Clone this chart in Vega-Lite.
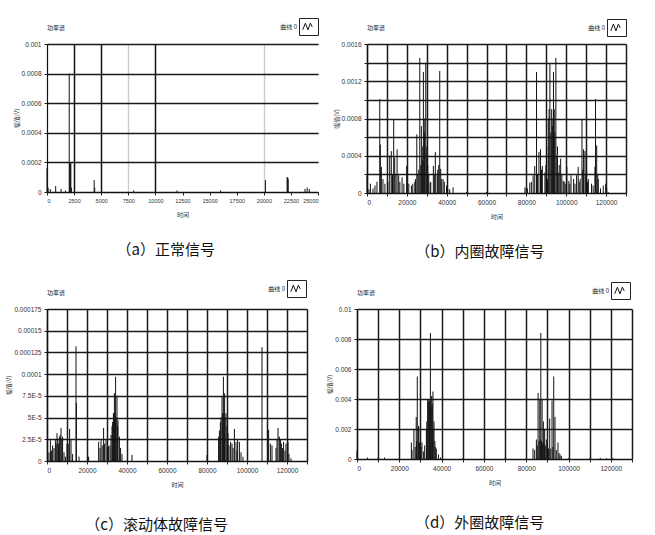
{
  "$schema": "https://vega.github.io/schema/vega-lite/v6.json",
  "background": "white",
  "padding": {"left": 5, "top": 17, "right": 5, "bottom": 5},
  "datasets": {
    "a": [
      {"x": 0, "y": 0.00016}, {"x": 100, "y": 0.00003}, {"x": 300, "y": 0.00002}, {"x": 800, "y": 0.00004},
      {"x": 1300, "y": 0.00002}, {"x": 1700, "y": 0.00001}, {"x": 2050, "y": 0.0008}, {"x": 2100, "y": 0.0002},
      {"x": 2150, "y": 0.00019}, {"x": 2200, "y": 0.0002}, {"x": 2250, "y": 0.00003}, {"x": 4350, "y": 0.00008},
      {"x": 4400, "y": 0.00003}, {"x": 8000, "y": 0.00001}, {"x": 12000, "y": 0.00001}, {"x": 16000, "y": 0.00001},
      {"x": 20150, "y": 0.00008}, {"x": 22150, "y": 0.0001}, {"x": 22200, "y": 0.0001}, {"x": 22250, "y": 0.00009},
      {"x": 23800, "y": 0.00002}, {"x": 24000, "y": 0.00003}, {"x": 24200, "y": 0.00002}
    ],
    "b": [
      {"x": 0, "y": 0.00019}, {"x": 1000, "y": 0.00004}, {"x": 1700, "y": 0.0001}, {"x": 3000, "y": 0.00005},
      {"x": 4000, "y": 0.00008}, {"x": 5000, "y": 0.00012}, {"x": 6400, "y": 0.00101}, {"x": 6700, "y": 0.00052},
      {"x": 7200, "y": 0.00028}, {"x": 8000, "y": 0.00015}, {"x": 9000, "y": 0.0001}, {"x": 10500, "y": 0.00012},
      {"x": 11400, "y": 0.0004}, {"x": 12200, "y": 0.00045}, {"x": 12800, "y": 0.0002}, {"x": 13400, "y": 0.00079},
      {"x": 13900, "y": 0.00038}, {"x": 14500, "y": 0.0002}, {"x": 15100, "y": 0.00047}, {"x": 15900, "y": 0.00019},
      {"x": 16500, "y": 0.00012}, {"x": 17600, "y": 0.00017}, {"x": 18500, "y": 0.0001}, {"x": 19900, "y": 0.00029},
      {"x": 21000, "y": 0.0001}, {"x": 22300, "y": 0.00008}, {"x": 23000, "y": 0.0001}, {"x": 24000, "y": 0.00012},
      {"x": 24300, "y": 0.00015}, {"x": 25000, "y": 0.00063}, {"x": 25500, "y": 0.0002}, {"x": 26000, "y": 0.00025},
      {"x": 26500, "y": 0.00145}, {"x": 27000, "y": 0.0003}, {"x": 27300, "y": 0.00072}, {"x": 27800, "y": 0.00035},
      {"x": 28000, "y": 0.0005}, {"x": 28300, "y": 0.0013}, {"x": 28800, "y": 0.00065}, {"x": 29000, "y": 0.0008},
      {"x": 29500, "y": 0.0014}, {"x": 30000, "y": 0.0005}, {"x": 30200, "y": 0.00037}, {"x": 30500, "y": 0.0003},
      {"x": 31000, "y": 0.0002}, {"x": 31700, "y": 0.00011}, {"x": 32000, "y": 0.00012}, {"x": 33300, "y": 0.00029},
      {"x": 33800, "y": 0.0002}, {"x": 34300, "y": 0.00044}, {"x": 35200, "y": 0.00019}, {"x": 35500, "y": 0.00025},
      {"x": 36000, "y": 0.0003}, {"x": 36500, "y": 0.00131}, {"x": 37000, "y": 0.00026}, {"x": 37500, "y": 0.00015},
      {"x": 38200, "y": 0.00015}, {"x": 38800, "y": 0.00012}, {"x": 39900, "y": 0.00008}, {"x": 40500, "y": 0.00005},
      {"x": 41500, "y": 0.00004}, {"x": 43200, "y": 0.00006}, {"x": 50000, "y": 0.00001}, {"x": 60000, "y": 0.00001},
      {"x": 70000, "y": 0.00001}, {"x": 79300, "y": 0.00006}, {"x": 80500, "y": 0.00005}, {"x": 81700, "y": 0.00011},
      {"x": 82500, "y": 0.00012}, {"x": 83400, "y": 0.00019}, {"x": 84200, "y": 0.00029}, {"x": 85100, "y": 0.0013},
      {"x": 85600, "y": 0.0002}, {"x": 86300, "y": 0.00044}, {"x": 87100, "y": 0.00047}, {"x": 87600, "y": 0.00025},
      {"x": 88000, "y": 0.00029}, {"x": 89300, "y": 0.00022}, {"x": 89800, "y": 0.0003}, {"x": 90200, "y": 0.0005},
      {"x": 90600, "y": 0.00015}, {"x": 91000, "y": 0.0008}, {"x": 91400, "y": 0.0009}, {"x": 91800, "y": 0.00139},
      {"x": 92300, "y": 0.00065}, {"x": 92700, "y": 0.0009}, {"x": 93000, "y": 0.00072}, {"x": 93300, "y": 0.0008},
      {"x": 93600, "y": 0.0013}, {"x": 94000, "y": 0.0009}, {"x": 94300, "y": 0.00065}, {"x": 94800, "y": 0.00145},
      {"x": 95300, "y": 0.0004}, {"x": 95600, "y": 0.0005}, {"x": 96000, "y": 0.00022}, {"x": 96500, "y": 0.0003},
      {"x": 97200, "y": 0.00037}, {"x": 97800, "y": 0.0002}, {"x": 98500, "y": 0.00013}, {"x": 99000, "y": 0.00012},
      {"x": 99800, "y": 0.0001}, {"x": 100300, "y": 0.00028}, {"x": 101300, "y": 0.00013}, {"x": 101800, "y": 0.0001},
      {"x": 102400, "y": 0.00019}, {"x": 103700, "y": 0.00015}, {"x": 104400, "y": 0.0001}, {"x": 105200, "y": 0.00019},
      {"x": 106000, "y": 0.00028}, {"x": 106500, "y": 0.00012}, {"x": 107000, "y": 0.00015}, {"x": 107900, "y": 0.00079},
      {"x": 108300, "y": 0.00025}, {"x": 108700, "y": 0.00047}, {"x": 109400, "y": 0.00045}, {"x": 109800, "y": 0.0002},
      {"x": 110200, "y": 0.0004}, {"x": 110700, "y": 0.00012}, {"x": 111100, "y": 0.00015}, {"x": 112700, "y": 0.0001},
      {"x": 113500, "y": 0.00008}, {"x": 114400, "y": 0.00028}, {"x": 114700, "y": 0.00101}, {"x": 115300, "y": 0.00051},
      {"x": 115800, "y": 0.0002}, {"x": 116100, "y": 0.00015}, {"x": 117200, "y": 0.00005}, {"x": 118600, "y": 0.00008},
      {"x": 119800, "y": 0.0001}, {"x": 120300, "y": 0.00005}, {"x": 121100, "y": 0.00001}
    ],
    "c": [
      {"x": 200, "y": 0.00016}, {"x": 1000, "y": 0.00001}, {"x": 1700, "y": 0.000024}, {"x": 2200, "y": 0.000012},
      {"x": 2800, "y": 0.000018}, {"x": 3500, "y": 0.000015}, {"x": 4200, "y": 0.000024}, {"x": 4600, "y": 0.00002},
      {"x": 5000, "y": 0.000032}, {"x": 5400, "y": 0.000025}, {"x": 5800, "y": 0.00002}, {"x": 6200, "y": 0.000028},
      {"x": 6600, "y": 0.00003}, {"x": 7000, "y": 0.000038}, {"x": 7400, "y": 0.000025}, {"x": 7800, "y": 0.000028},
      {"x": 8500, "y": 0.00001}, {"x": 9200, "y": 0.000005}, {"x": 10000, "y": 0.00002}, {"x": 10600, "y": 0.00002},
      {"x": 11300, "y": 0.000037}, {"x": 12000, "y": 0.000024}, {"x": 12800, "y": 0.000008}, {"x": 14500, "y": 0.000132},
      {"x": 14700, "y": 0.000067}, {"x": 16000, "y": 0.000005}, {"x": 20800, "y": 0.000005}, {"x": 25800, "y": 0.000022},
      {"x": 26500, "y": 0.000015}, {"x": 27000, "y": 0.000024}, {"x": 27600, "y": 0.000018}, {"x": 28300, "y": 0.000038},
      {"x": 28800, "y": 0.00002}, {"x": 29500, "y": 0.000024}, {"x": 30200, "y": 0.000015}, {"x": 30800, "y": 0.000017},
      {"x": 31500, "y": 0.000018}, {"x": 32000, "y": 0.00003}, {"x": 32500, "y": 0.00004}, {"x": 32800, "y": 0.000045},
      {"x": 33200, "y": 0.000055}, {"x": 33500, "y": 0.000055}, {"x": 33700, "y": 0.000078}, {"x": 34000, "y": 0.000055},
      {"x": 34300, "y": 0.000097}, {"x": 34600, "y": 0.00005}, {"x": 35000, "y": 0.000074}, {"x": 35300, "y": 0.00004},
      {"x": 35500, "y": 0.000047}, {"x": 36200, "y": 0.000028}, {"x": 36800, "y": 0.000015}, {"x": 37500, "y": 0.000008},
      {"x": 42500, "y": 0.000007}, {"x": 80000, "y": 0.000007}, {"x": 85800, "y": 0.000028}, {"x": 86200, "y": 0.000035},
      {"x": 86700, "y": 0.000045}, {"x": 87000, "y": 0.00005}, {"x": 87500, "y": 0.000074}, {"x": 87800, "y": 0.000055},
      {"x": 88200, "y": 0.000097}, {"x": 88500, "y": 0.000055}, {"x": 88800, "y": 0.000078}, {"x": 89000, "y": 0.00005},
      {"x": 89500, "y": 0.000055}, {"x": 90000, "y": 0.00004}, {"x": 90500, "y": 0.000032}, {"x": 91000, "y": 0.000018},
      {"x": 91800, "y": 0.000022}, {"x": 92500, "y": 0.00002}, {"x": 93000, "y": 0.000015}, {"x": 93700, "y": 0.000037},
      {"x": 94500, "y": 0.000022}, {"x": 95000, "y": 0.000012}, {"x": 95300, "y": 0.000024}, {"x": 96200, "y": 0.000022},
      {"x": 97000, "y": 0.00001}, {"x": 98000, "y": 0.000005}, {"x": 107500, "y": 0.000131}, {"x": 110800, "y": 0.000036},
      {"x": 111700, "y": 0.00002}, {"x": 112500, "y": 0.000018}, {"x": 114500, "y": 0.000015}, {"x": 115000, "y": 0.000025},
      {"x": 115500, "y": 0.000038}, {"x": 116200, "y": 0.000028}, {"x": 116800, "y": 0.000025}, {"x": 117200, "y": 0.00002},
      {"x": 117800, "y": 0.000015}, {"x": 118300, "y": 0.000022}, {"x": 119000, "y": 0.000012}, {"x": 119500, "y": 0.00002},
      {"x": 120500, "y": 0.000022}, {"x": 121000, "y": 0.000008}, {"x": 122000, "y": 0.000003}
    ],
    "d": [
      {"x": 0, "y": 0.00056}, {"x": 5000, "y": 0.0001}, {"x": 10000, "y": 0.0001}, {"x": 13000, "y": 0.0001},
      {"x": 20000, "y": 0.00005}, {"x": 25700, "y": 0.0011}, {"x": 26000, "y": 0.0006}, {"x": 26900, "y": 0.002},
      {"x": 27500, "y": 0.0008}, {"x": 28000, "y": 0.0028}, {"x": 28200, "y": 0.0012}, {"x": 28500, "y": 0.0055},
      {"x": 29100, "y": 0.0022}, {"x": 29500, "y": 0.0011}, {"x": 29900, "y": 0.002}, {"x": 30300, "y": 0.0008},
      {"x": 30700, "y": 0.0011}, {"x": 31500, "y": 0.0005}, {"x": 32000, "y": 0.0009}, {"x": 32800, "y": 0.002},
      {"x": 33000, "y": 0.0025}, {"x": 33400, "y": 0.004}, {"x": 33700, "y": 0.0038}, {"x": 34000, "y": 0.004},
      {"x": 34300, "y": 0.0039}, {"x": 34700, "y": 0.0084}, {"x": 35000, "y": 0.0035}, {"x": 35300, "y": 0.0042},
      {"x": 35600, "y": 0.0037}, {"x": 35900, "y": 0.0045}, {"x": 36000, "y": 0.002}, {"x": 36400, "y": 0.0025},
      {"x": 36800, "y": 0.0012}, {"x": 37000, "y": 0.0008}, {"x": 37500, "y": 0.0007}, {"x": 38500, "y": 0.0003},
      {"x": 39500, "y": 0.0001}, {"x": 50000, "y": 0.00005}, {"x": 70000, "y": 0.00005}, {"x": 83200, "y": 0.0007},
      {"x": 84000, "y": 0.0006}, {"x": 84800, "y": 0.0013}, {"x": 85200, "y": 0.0009}, {"x": 85600, "y": 0.0044},
      {"x": 86000, "y": 0.0012}, {"x": 86400, "y": 0.004}, {"x": 86600, "y": 0.0013}, {"x": 86900, "y": 0.0084},
      {"x": 87200, "y": 0.0012}, {"x": 87500, "y": 0.004}, {"x": 87800, "y": 0.0011}, {"x": 88100, "y": 0.0025},
      {"x": 88400, "y": 0.001}, {"x": 88700, "y": 0.002}, {"x": 89000, "y": 0.0009}, {"x": 89500, "y": 0.0013},
      {"x": 90000, "y": 0.0008}, {"x": 90500, "y": 0.0007}, {"x": 91100, "y": 0.0027}, {"x": 91600, "y": 0.0007},
      {"x": 92200, "y": 0.0039}, {"x": 92600, "y": 0.0008}, {"x": 93000, "y": 0.0055}, {"x": 93600, "y": 0.0028},
      {"x": 94200, "y": 0.0006}, {"x": 95000, "y": 0.0011}, {"x": 95500, "y": 0.0004}, {"x": 96000, "y": 0.0003},
      {"x": 96600, "y": 0.0002}, {"x": 100000, "y": 0.00005}, {"x": 110000, "y": 0.00005}, {"x": 115000, "y": 0.00008},
      {"x": 118000, "y": 0.00005}, {"x": 121000, "y": 0.00005}
    ]
  },
  "config": {
    "view": {"stroke": null},
    "font": "Liberation Sans",
    "axis": {
      "labelFont": "Liberation Sans", "labelFontSize": 6.5, "labelColor": "#333",
      "titleFont": "Noto Sans CJK SC", "titleFontSize": 6, "titleFontWeight": "normal", "titleColor": "#333",
      "tickSize": 3, "tickColor": "#222", "domainColor": "#111", "domainWidth": 1.2,
      "gridColor": "#1a1a1a", "gridWidth": 1.5, "gridOpacity": 1, "labelPadding": 3, "titlePadding": 2
    },
    "axisX": {"titlePadding": 8},
    "title": {"font": "Noto Sans CJK SC", "fontWeight": "normal", "color": "#111", "fontSize": 15},
    "legend": {
      "title": null, "labelFont": "Noto Sans CJK SC", "labelFontSize": 6, "labelColor": "#222",
      "strokeColor": "#222", "padding": 3, "symbolType": "M-1,0.7L-0.45,-0.7L0.1,0.7L0.6,-0.7L1,0.1",
      "symbolSize": 90, "symbolStrokeWidth": 1, "labelAlign": "right", "labelOffset": -16, "fillColor": "white"
    }
  },
  "resolve": {"scale": {"color": "independent"}, "legend": {"color": "independent"}},
  "spacing": 19,
  "vconcat": [
    {
      "spacing": 14,
      "resolve": {"scale": {"color": "independent"}, "legend": {"color": "independent"}},
      "hconcat": [
        {
          "title": {"text": "（a）正常信号", "orient": "bottom", "anchor": "middle", "offset": 25},
          "vconcat": [
            {
              "title": {"text": "功率谱", "anchor": "start", "frame": "group", "fontSize": 6, "offset": 10},
              "width": 271, "height": 148,
              "data": {"name": "a"},
              "mark": {"type": "rule", "strokeWidth": 1},
              "encoding": {
                "x": {"field": "x", "type": "quantitative", "scale": {"domain": [0, 25000], "nice": false},
                  "axis": {"values": [0, 2500, 5000, 7500, 10000, 12500, 15000, 17500, 20000, 22500, 25000], "format": "d", "title": "时间",
                    "labelOverlap": false, "labelFontSize": 5.5,
                    "gridColor": {"condition": {"test": "datum.value == 7500 || datum.value == 20000", "value": "#cccccc"}, "value": "#111111"},
                    "gridOpacity": {"condition": {"test": "datum.value == 2500 || datum.value == 5000 || datum.value == 7500 || datum.value == 10000 || datum.value == 20000", "value": 1}, "value": 0}}},
                "y": {"field": "y", "type": "quantitative", "scale": {"domain": [0, 0.001], "nice": false},
                  "axis": {"values": [0, 0.0002, 0.0004, 0.0006, 0.0008, 0.001], "format": "~g", "title": "幅值(V)"}},
                "y2": {"datum": 0},
                "color": {"datum": "曲线 0", "scale": {"range": ["#111111"]},
                  "legend": {"orient": "none", "legendX": 252, "legendY": -26}}
              }
            }
          ]
        },
        {
          "title": {"text": "（b）内圈故障信号", "orient": "bottom", "anchor": "middle", "offset": 25},
          "vconcat": [
            {
              "title": {"text": "功率谱", "anchor": "start", "frame": "group", "fontSize": 6, "offset": 10},
              "width": 259, "height": 149,
              "data": {"name": "b"},
              "mark": {"type": "rule", "strokeWidth": 1},
              "encoding": {
                "x": {"field": "x", "type": "quantitative", "scale": {"domain": [0, 130000], "nice": false},
                  "axis": {"values": [0, 10000, 20000, 30000, 40000, 50000, 60000, 70000, 80000, 90000, 100000, 110000, 120000, 130000],
                    "labelExpr": "datum.value % 20000 == 0 ? format(datum.value, 'd') : ''", "title": "时间"}},
                "y": {"field": "y", "type": "quantitative", "scale": {"domain": [0, 0.0016], "nice": false},
                  "axis": {"values": [0, 0.0002, 0.0004, 0.0006, 0.0008, 0.001, 0.0012, 0.0014, 0.0016],
                    "labelExpr": "round(datum.value * 10000) % 4 == 0 ? (datum.value == 0 ? '0' : format(datum.value, '.4f')) : ''", "title": "幅值(V)"}},
                "y2": {"datum": 0},
                "color": {"datum": "曲线 0", "scale": {"range": ["#111111"]},
                  "legend": {"orient": "none", "legendX": 240, "legendY": -25}}
              }
            }
          ]
        }
      ]
    },
    {
      "spacing": 18,
      "resolve": {"scale": {"color": "independent"}, "legend": {"color": "independent"}},
      "hconcat": [
        {
          "title": {"text": "（c）滚动体故障信号", "orient": "bottom", "anchor": "middle", "offset": 30},
          "vconcat": [
            {
              "title": {"text": "功率谱", "anchor": "start", "frame": "group", "fontSize": 6, "offset": 10},
              "width": 260, "height": 152,
              "data": {"name": "c"},
              "mark": {"type": "rule", "strokeWidth": 1},
              "encoding": {
                "x": {"field": "x", "type": "quantitative", "scale": {"domain": [0, 130000], "nice": false},
                  "axis": {"values": [0, 10000, 20000, 30000, 40000, 50000, 60000, 70000, 80000, 90000, 100000, 110000, 120000, 130000],
                    "labelExpr": "datum.value % 20000 == 0 ? format(datum.value, 'd') : ''", "title": "时间"}},
                "y": {"field": "y", "type": "quantitative", "scale": {"domain": [0, 0.000175], "nice": false},
                  "axis": {"values": [0, 0.000025, 0.00005, 0.000075, 0.0001, 0.000125, 0.00015, 0.000175],
                    "labelExpr": "datum.value == 0 ? '0' : (datum.value < 0.00009 ? format(datum.value * 100000, '~g') + 'E-5' : format(datum.value, '~g'))", "title": "幅值(V)"}},
                "y2": {"datum": 0},
                "color": {"datum": "曲线 0", "scale": {"range": ["#111111"]},
                  "legend": {"orient": "none", "legendX": 240, "legendY": -29}}
              }
            }
          ]
        },
        {
          "title": {"text": "（d）外圈故障信号", "orient": "bottom", "anchor": "middle", "offset": 30},
          "vconcat": [
            {
              "title": {"text": "功率谱", "anchor": "start", "frame": "group", "fontSize": 6, "offset": 10},
              "width": 275, "height": 150,
              "data": {"name": "d"},
              "mark": {"type": "rule", "strokeWidth": 1},
              "encoding": {
                "x": {"field": "x", "type": "quantitative", "scale": {"domain": [0, 130000], "nice": false},
                  "axis": {"values": [0, 10000, 20000, 30000, 40000, 50000, 60000, 70000, 80000, 90000, 100000, 110000, 120000, 130000],
                    "labelExpr": "datum.value % 20000 == 0 ? format(datum.value, 'd') : ''", "title": "时间"}},
                "y": {"field": "y", "type": "quantitative", "scale": {"domain": [0, 0.01], "nice": false},
                  "axis": {"values": [0, 0.002, 0.004, 0.006, 0.008, 0.01], "format": "~g", "title": "幅值(V)"}},
                "y2": {"datum": 0},
                "color": {"datum": "曲线 0", "scale": {"range": ["#111111"]},
                  "legend": {"orient": "none", "legendX": 254, "legendY": -27}}
              }
            }
          ]
        }
      ]
    }
  ]
}
